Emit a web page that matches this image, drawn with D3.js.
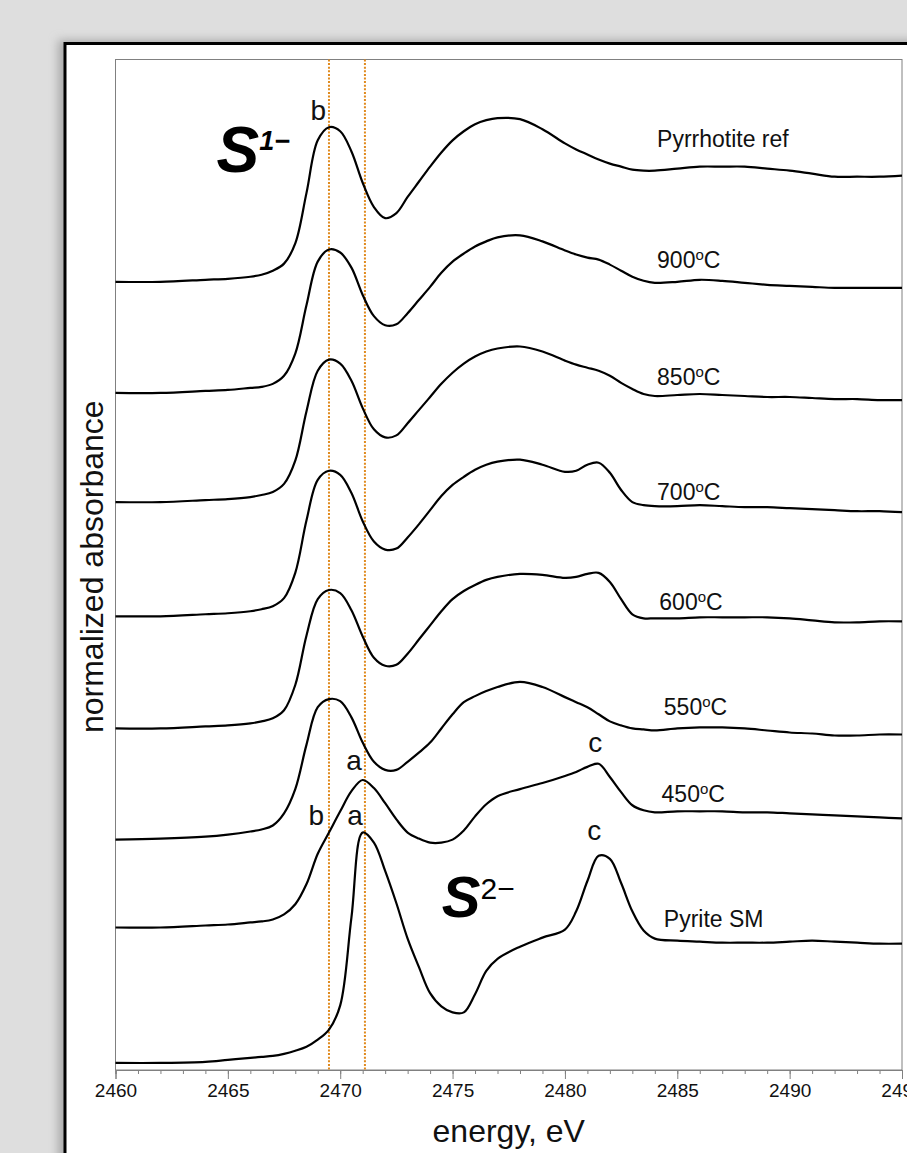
<!DOCTYPE html>
<html>
<head>
<meta charset="utf-8">
<script src="https://cdn.jsdelivr.net/npm/d3@7"></script>
<style>
  body { margin: 0; background: #dedede; overflow: hidden; }
  svg text { font-family: "Liberation Sans", Arial, sans-serif; }
</style>
</head>
<body>
<div id="chart"></div>
<script>
// energy grid (eV) shared by all spectra
const energy = [2460, 2462, 2464, 2465, 2466, 2466.5, 2467, 2467.5, 2468, 2468.5, 2469, 2469.5, 2470, 2470.5, 2471, 2471.5, 2472, 2472.5, 2473, 2473.5, 2474, 2474.5, 2475, 2475.5, 2476, 2476.5, 2477, 2478, 2479, 2480, 2480.5, 2481, 2481.5, 2482, 2482.5, 2483, 2483.5, 2484, 2485, 2486, 2487, 2488, 2489, 2490, 2491, 2492, 2493, 2494, 2495];

// normalized absorbance of each spectrum (before vertical offset)
const pyrrhotiteRef = [0, 0.00, 0.02, 0.03, 0.05, 0.07, 0.11, 0.18, 0.38, 0.88, 1.40, 1.53, 1.49, 1.29, 0.98, 0.74, 0.63, 0.68, 0.84, 0.99, 1.14, 1.28, 1.40, 1.49, 1.56, 1.60, 1.62, 1.61, 1.51, 1.37, 1.31, 1.26, 1.21, 1.17, 1.14, 1.11, 1.10, 1.10, 1.12, 1.14, 1.14, 1.14, 1.12, 1.10, 1.07, 1.04, 1.04, 1.04, 1.05];
const t900 = [0, 0.00, 0.02, 0.03, 0.05, 0.06, 0.09, 0.17, 0.39, 0.87, 1.30, 1.42, 1.39, 1.24, 0.97, 0.76, 0.67, 0.68, 0.79, 0.92, 1.05, 1.19, 1.30, 1.38, 1.45, 1.50, 1.54, 1.56, 1.50, 1.41, 1.37, 1.34, 1.32, 1.27, 1.21, 1.15, 1.11, 1.09, 1.10, 1.12, 1.11, 1.09, 1.07, 1.06, 1.05, 1.04, 1.04, 1.04, 1.04];
const t850 = [0, 0.00, 0.02, 0.03, 0.05, 0.07, 0.10, 0.18, 0.41, 0.90, 1.30, 1.41, 1.37, 1.20, 0.93, 0.72, 0.64, 0.66, 0.78, 0.91, 1.04, 1.17, 1.28, 1.37, 1.44, 1.49, 1.52, 1.54, 1.49, 1.40, 1.36, 1.33, 1.30, 1.25, 1.18, 1.12, 1.07, 1.05, 1.06, 1.07, 1.06, 1.05, 1.04, 1.04, 1.03, 1.02, 1.02, 1.01, 1.01];
const t700 = [0, 0.00, 0.02, 0.03, 0.05, 0.07, 0.10, 0.18, 0.43, 0.95, 1.35, 1.44, 1.40, 1.22, 0.94, 0.74, 0.66, 0.67, 0.78, 0.91, 1.05, 1.19, 1.30, 1.38, 1.45, 1.50, 1.53, 1.55, 1.50, 1.43, 1.44, 1.50, 1.52, 1.42, 1.25, 1.13, 1.10, 1.09, 1.09, 1.10, 1.09, 1.08, 1.08, 1.07, 1.06, 1.05, 1.04, 1.04, 1.03];
const t600 = [0, 0.00, 0.02, 0.03, 0.05, 0.07, 0.10, 0.18, 0.43, 0.92, 1.28, 1.37, 1.34, 1.17, 0.91, 0.70, 0.62, 0.63, 0.74, 0.88, 1.02, 1.16, 1.28, 1.36, 1.42, 1.47, 1.50, 1.53, 1.52, 1.49, 1.50, 1.53, 1.54, 1.45, 1.28, 1.13, 1.09, 1.09, 1.09, 1.10, 1.10, 1.10, 1.10, 1.09, 1.07, 1.05, 1.05, 1.06, 1.06];
const t550 = [0, 0.01, 0.03, 0.05, 0.08, 0.10, 0.14, 0.26, 0.50, 0.94, 1.31, 1.39, 1.37, 1.21, 0.96, 0.77, 0.69, 0.69, 0.77, 0.86, 0.96, 1.10, 1.24, 1.36, 1.42, 1.47, 1.51, 1.56, 1.51, 1.41, 1.36, 1.31, 1.24, 1.17, 1.13, 1.10, 1.09, 1.08, 1.10, 1.11, 1.11, 1.10, 1.08, 1.06, 1.05, 1.03, 1.03, 1.04, 1.04];
const t450 = [0, 0.00, 0.02, 0.03, 0.05, 0.06, 0.08, 0.13, 0.23, 0.43, 0.73, 0.94, 1.15, 1.35, 1.46, 1.38, 1.23, 1.07, 0.94, 0.88, 0.84, 0.84, 0.87, 0.96, 1.10, 1.22, 1.30, 1.37, 1.43, 1.50, 1.54, 1.59, 1.62, 1.49, 1.34, 1.21, 1.16, 1.14, 1.15, 1.15, 1.15, 1.14, 1.14, 1.13, 1.12, 1.11, 1.10, 1.09, 1.08];
const pyriteSM = [0, 0.00, 0.01, 0.03, 0.05, 0.06, 0.07, 0.09, 0.12, 0.16, 0.23, 0.33, 0.57, 1.44, 2.28, 2.18, 1.90, 1.58, 1.23, 0.95, 0.69, 0.56, 0.50, 0.50, 0.68, 0.91, 1.03, 1.15, 1.24, 1.32, 1.50, 1.80, 2.05, 2.02, 1.78, 1.50, 1.31, 1.23, 1.21, 1.20, 1.19, 1.19, 1.19, 1.20, 1.21, 1.20, 1.19, 1.18, 1.18];

const spectra = [pyrrhotiteRef, t900, t850, t700, t600, t550, t450, pyriteSM];
const spectrumLabels = ["Pyrrhotite ref", "900", "850", "700", "600", "550", "450", "Pyrite SM"];
const spectrumOffsets = [7.80, 6.70, 5.62, 4.49, 3.38, 2.28, 1.41, 0.07];
const labelEnergies = [2484.1, 2484.1, 2484.1, 2484.1, 2484.2, 2484.4, 2484.3, 2484.4];
const labelLevels = [9.13, 7.94, 6.78, 5.64, 4.55, 3.51, 2.65, 1.42];

// peak letters: text, energy, level
const peakLetters = ["b", "a", "b", "a", "c", "c"];
const peakEnergies = [2469.02, 2470.62, 2468.93, 2470.66, 2481.35, 2481.31];
const peakLevels = [9.40, 2.97, 2.42, 2.42, 3.15, 2.28];

const markerEnergies = [2469.5, 2471.1];
const majorTicks = d3.range(2460, 2496, 5);
const minorTicks = d3.range(2460, 2496, 1);

const margin = { top: 59.5, right: 5, bottom: 83, left: 115.5 },
    width = 902 - margin.left,
    height = 1070 - margin.top;

const svg = d3.select("#chart").append("svg")
    .attr("width", 907)
    .attr("height", 1153);

// panel shadow + white panel
const defs = svg.append("defs");
const shadow = defs.append("filter").attr("id", "shadow")
    .attr("x", "-10%").attr("y", "-10%").attr("width", "120%").attr("height", "120%");
shadow.append("feGaussianBlur").attr("stdDeviation", 5);

svg.append("rect")
    .attr("x", 58).attr("y", 40).attr("width", 900).attr("height", 1200)
    .attr("fill", "#aaa").attr("filter", "url(#shadow)");
svg.append("rect")
    .attr("x", 65).attr("y", 43.5).attr("width", 900).attr("height", 1200)
    .attr("fill", "white").attr("stroke", "#000").attr("stroke-width", 3);

const g = svg.append("g")
    .attr("transform", `translate(${margin.left},${margin.top})`);

const x = d3.scaleLinear().domain([2460, 2495]).range([0, width]);
const y = d3.scaleLinear().domain([0, 10]).range([height, 0]);

// plot frame
g.append("rect")
    .attr("width", width).attr("height", height)
    .attr("fill", "none").attr("stroke", "#808080").attr("stroke-width", 1);

// dotted marker lines
g.selectAll(".marker")
    .data(markerEnergies)
    .enter().append("line")
    .attr("x1", d => x(d)).attr("x2", d => x(d))
    .attr("y1", 0).attr("y2", height)
    .attr("stroke", "#e08a1e")
    .attr("stroke-width", 2)
    .attr("stroke-dasharray", "2,1.6");

// spectra
const line = d3.line()
    .x(d => x(d[0]))
    .y(d => y(d[1]))
    .curve(d3.curveCatmullRom.alpha(0.5));

spectra.forEach((vals, i) => {
    const pts = energy.map((e, j) => [e, vals[j] + spectrumOffsets[i]]);
    g.append("path")
        .datum(pts)
        .attr("d", line)
        .attr("fill", "none")
        .attr("stroke", "#000")
        .attr("stroke-width", 2.2)
        .attr("stroke-linejoin", "round");
});

// axis: minor then major ticks
const minorAxis = g.append("g")
    .attr("transform", `translate(0,${height})`)
    .call(d3.axisBottom(x).tickValues(minorTicks).tickSize(4).tickFormat(""));
const majorAxis = g.append("g")
    .attr("transform", `translate(0,${height})`)
    .call(d3.axisBottom(x).tickValues(majorTicks).tickSize(9).tickPadding(5).tickFormat(d3.format("d")));
[minorAxis, majorAxis].forEach(a => {
    a.select(".domain").attr("stroke", "#808080");
    a.selectAll(".tick line").attr("stroke", "#808080");
});
majorAxis.selectAll("text")
    .attr("font-family", "Liberation Sans, Arial, sans-serif")
    .attr("font-size", 19)
    .attr("fill", "#111");

// axis titles
g.append("text")
    .attr("x", width / 2)
    .attr("y", height + 72)
    .attr("text-anchor", "middle")
    .attr("font-size", 32)
    .attr("fill", "#111")
    .text("energy, eV");

g.append("text")
    .attr("transform", `translate(-13,${height / 2 + 2}) rotate(-90)`)
    .attr("text-anchor", "middle")
    .attr("font-size", 32)
    .attr("fill", "#111")
    .text("normalized absorbance");

// spectrum labels
spectrumLabels.forEach((lab, i) => {
    const t = g.append("text")
        .attr("x", x(labelEnergies[i]))
        .attr("y", y(labelLevels[i]))
        .attr("font-size", 23)
        .attr("fill", "#111");
    if (/^\d+$/.test(lab)) {
        t.append("tspan").text(lab);
        t.append("tspan").attr("dy", -8).attr("font-size", 15).text("o");
        t.append("tspan").attr("dy", 8).text("C");
    } else {
        t.text(lab);
    }
});

// peak letters
peakLetters.forEach((p, i) => {
    g.append("text")
        .attr("x", x(peakEnergies[i]))
        .attr("y", y(peakLevels[i]))
        .attr("text-anchor", "middle")
        .attr("font-size", 28)
        .attr("fill", "#111")
        .text(p);
});

// oxidation state labels
const s1 = g.append("text")
    .attr("x", x(2464.5))
    .attr("y", y(8.89))
    .attr("font-weight", "bold")
    .attr("font-style", "italic")
    .attr("fill", "#000");
s1.append("tspan").attr("font-size", 64).text("S");
s1.append("tspan").attr("font-size", 27).attr("dy", -22).text("1\u2212");

const s2 = g.append("text")
    .attr("x", x(2474.52))
    .attr("y", y(1.51))
    .attr("fill", "#000");
s2.append("tspan").attr("font-size", 58).attr("font-weight", "bold").attr("font-style", "italic").text("S");
s2.append("tspan").attr("font-size", 30).attr("dy", -18).text("2\u2212");
</script>
</body>
</html>
